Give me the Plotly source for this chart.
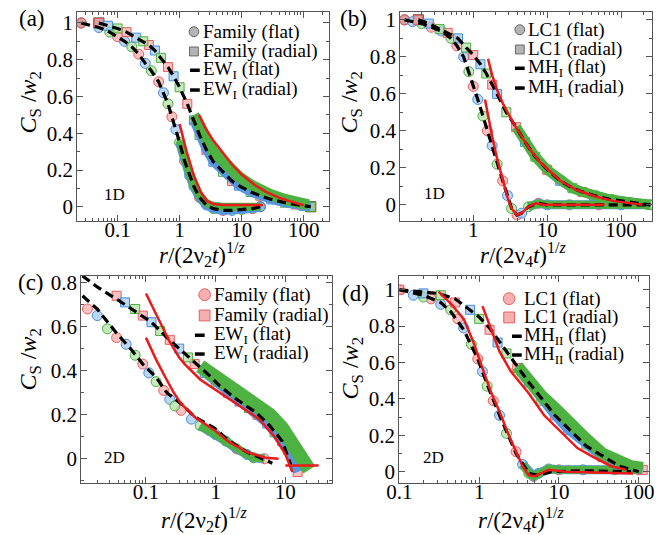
import plotly.graph_objects as go

W, H = 661, 535
FONT = "Times New Roman, Liberation Serif, DejaVu Serif, serif"

# ---------------- data ----------------
# Panel (a): Family 1D
A_FLAT_X = [0.026, 0.05, 0.075, 0.1, 0.13, 0.17, 0.22, 0.28, 0.35, 0.46, 0.55, 0.65, 0.75, 0.87, 1.0, 1.2, 1.45, 1.7, 2.1, 2.7, 3.5, 5.0, 7.0, 10.0, 15.0, 20.0]
A_FLAT_Y = [1.0, 0.975, 0.95, 0.925, 0.9, 0.87, 0.83, 0.78, 0.74, 0.68, 0.62, 0.56, 0.49, 0.42, 0.35, 0.25, 0.17, 0.11, 0.05, 0.01, -0.01, -0.02, -0.02, -0.015, -0.01, 0.0]
A_FLAT_BAND_X = [1.0, 1.2, 1.45, 1.7, 2.1, 2.7, 3.5, 5.0, 7.0, 10.0, 15.0, 20.0]
A_FLAT_BAND_Y = [0.36, 0.26, 0.18, 0.12, 0.06, 0.02, 0.005, 0.0, 0.0, 0.0, 0.0, 0.0]
A_RAD_X = [0.05, 0.07, 0.1, 0.14, 0.2, 0.26, 0.32, 0.4, 0.5, 0.65, 0.8, 1.0, 1.33, 1.7, 2.1, 2.7, 3.5, 5.0, 7.0, 9.0, 14.0, 20.0, 30.0, 50.0, 75.0, 100.0, 130.0]
A_RAD_Y = [1.0, 0.985, 0.97, 0.95, 0.92, 0.9, 0.88, 0.85, 0.81, 0.76, 0.71, 0.65, 0.56, 0.47, 0.39, 0.31, 0.245, 0.19, 0.14, 0.115, 0.08, 0.06, 0.04, 0.022, 0.012, 0.005, 0.0]
A_RAD_BAND_X = [1.7, 2.1, 2.7, 3.5, 5.0, 7.0, 9.0, 14.0, 20.0, 30.0, 50.0, 75.0, 100.0, 120.0]
A_RAD_BAND_Y = [0.5, 0.44, 0.36, 0.3, 0.25, 0.2, 0.165, 0.12, 0.09, 0.065, 0.04, 0.025, 0.015, 0.01]
A_RED1_X = [1.0, 1.3, 1.7, 2.2, 2.8, 3.5, 5.0, 10.0, 22.0]
A_RED1_Y = [0.45, 0.3, 0.17, 0.08, 0.03, 0.015, 0.01, 0.01, 0.01]
A_RED2_X = [2.05, 2.7, 3.5, 5.0, 7.0, 10.0, 16.0, 25.0, 40.0, 60.0, 100.0]
A_RED2_Y = [0.5, 0.42, 0.36, 0.29, 0.23, 0.175, 0.12, 0.08, 0.05, 0.03, 0.008]
A_GRAY_C_X, A_GRAY_C_Y = [0.026, 20.0], [1.0, 0.0]
A_GRAY_S_X, A_GRAY_S_Y = [0.05, 130.0], [1.0, 0.0]

# Panel (b): LC1 1D
B_FLAT_X = [0.117, 0.15, 0.2, 0.27, 0.37, 0.5, 0.6, 0.74, 0.87, 1.0, 1.15, 1.35, 1.55, 1.8, 2.1, 2.5, 2.9, 3.3, 3.9, 4.5, 5.6, 7.6, 10.0, 20.0, 50.0, 100.0, 250.0]
B_FLAT_Y = [1.0, 0.99, 0.98, 0.96, 0.94, 0.9, 0.86, 0.8, 0.72, 0.64, 0.57, 0.48, 0.4, 0.32, 0.22, 0.13, 0.05, -0.02, -0.055, -0.045, -0.01, 0.008, 0.0, 0.0, 0.0, 0.0, 0.0]
B_RAD_X = [0.18, 0.25, 0.35, 0.45, 0.62, 0.8, 1.0, 1.25, 1.5, 1.8, 2.1, 2.8, 3.8, 5.0, 6.9, 10.0, 15.0, 22.0, 30.0, 43.0, 70.0, 120.0, 195.0, 250.0]
B_RAD_Y = [1.0, 0.98, 0.95, 0.93, 0.9, 0.85, 0.81, 0.76, 0.71, 0.65, 0.6, 0.5, 0.42, 0.34, 0.26, 0.19, 0.13, 0.09, 0.07, 0.05, 0.03, 0.015, 0.005, 0.0]
B_RED1_X = [1.44, 1.6, 1.8, 2.1, 2.5, 2.9, 3.3, 3.9, 4.5, 5.6, 7.0, 9.0, 15.0, 30.0, 60.0]
B_RED1_Y = [0.57, 0.47, 0.37, 0.25, 0.13, 0.04, -0.02, -0.055, -0.045, -0.01, 0.008, 0.0, 0.0, 0.0, 0.0]
B_RED2_X = [1.58, 1.8, 2.1, 2.5, 3.5, 5.6, 8.0, 15.0, 25.0, 45.0, 80.0, 195.0]
B_RED2_Y = [0.79, 0.7, 0.62, 0.55, 0.44, 0.31, 0.23, 0.13, 0.08, 0.045, 0.02, 0.0]
B_GRAY_C_X, B_GRAY_C_Y = [0.117], [1.0]
B_GRAY_S_X, B_GRAY_S_Y = [0.18], [1.0]

# Panel (c): Family 2D
C_FLAT_X = [0.0145, 0.02, 0.028, 0.038, 0.052, 0.07, 0.09, 0.11, 0.14, 0.18, 0.22, 0.26, 0.32, 0.45, 0.6, 0.8, 1.0, 1.4, 2.0, 2.8, 3.5, 5.0]
C_FLAT_Y = [0.68, 0.65, 0.59, 0.55, 0.52, 0.47, 0.43, 0.39, 0.35, 0.31, 0.27, 0.24, 0.22, 0.18, 0.15, 0.13, 0.11, 0.08, 0.045, 0.02, 0.005, 0.0]
C_FLAT_TH_X = [0.0123, 0.02, 0.038, 0.06, 0.09, 0.14, 0.2, 0.32, 0.5, 0.96, 1.5, 2.8, 4.0, 5.8, 6.5]
C_FLAT_TH_Y = [0.74, 0.68, 0.57, 0.5, 0.43, 0.37, 0.3, 0.25, 0.19, 0.14, 0.085, 0.03, 0.01, -0.01, -0.02]
C_RAD_X = [0.038, 0.05, 0.07, 0.09, 0.12, 0.16, 0.22, 0.3, 0.4, 0.5, 0.7, 1.0, 1.5, 2.2, 3.0, 4.0, 5.5, 7.0, 9.0, 11.0, 13.0, 15.0]
C_RAD_Y = [0.74, 0.71, 0.68, 0.65, 0.62, 0.58, 0.54, 0.5, 0.46, 0.43, 0.39, 0.35, 0.3, 0.26, 0.23, 0.2, 0.16, 0.12, 0.08, 0.04, -0.01, -0.06]
C_RAD_BAND_X = [0.6, 1.0, 1.5, 2.2, 3.0, 4.0, 6.0, 9.0, 12.0, 15.0, 18.0, 22.0]
C_RAD_BAND_Y = [0.42, 0.37, 0.33, 0.3, 0.27, 0.24, 0.2, 0.14, 0.08, 0.03, -0.02, -0.05]
C_RAD_TH_X = [0.0123, 0.02, 0.04, 0.07, 0.12, 0.2, 0.3, 0.5, 0.8, 1.15, 2.0, 3.8, 6.0, 9.0, 12.0]
C_RAD_TH_Y = [0.83, 0.78, 0.72, 0.67, 0.62, 0.55, 0.5, 0.44, 0.38, 0.33, 0.27, 0.21, 0.15, 0.08, -0.03]
C_RED1_X = [0.1, 0.14, 0.19, 0.25, 0.32, 0.5, 0.96, 1.5, 2.8, 5.2, 8.0]
C_RED1_Y = [0.55, 0.45, 0.37, 0.3, 0.25, 0.19, 0.13, 0.08, 0.03, 0.005, 0.0]
C_RED2_X = [0.1, 0.15, 0.22, 0.3, 0.36, 0.6, 1.15, 2.0, 4.2, 7.0, 10.0, 12.6]
C_RED2_Y = [0.75, 0.64, 0.53, 0.46, 0.43, 0.36, 0.3, 0.25, 0.18, 0.1, 0.02, -0.06]
C_RED3_X = [10.0, 30.0]
C_RED3_Y = [-0.03, -0.03]

# Panel (d): LC1 2D
D_FLAT_X = [0.1, 0.15, 0.2, 0.25, 0.33, 0.44, 0.54, 0.64, 0.8, 0.96, 1.1, 1.26, 1.5, 1.8, 2.2, 2.9, 3.5, 4.2, 4.8, 5.5, 7.4, 10.0, 20.0, 50.0, 100.0]
D_FLAT_Y = [1.0, 0.97, 0.96, 0.95, 0.92, 0.89, 0.84, 0.79, 0.7, 0.62, 0.55, 0.47, 0.39, 0.31, 0.21, 0.11, 0.04, -0.01, -0.025, -0.01, 0.015, 0.01, 0.01, 0.01, 0.01]
D_FLAT_TH_X = [0.1, 0.2, 0.33, 0.44, 0.64, 0.96, 1.26, 1.8, 2.9, 4.2, 5.5, 8.0, 20.0, 80.0]
D_FLAT_TH_Y = [1.0, 0.97, 0.93, 0.88, 0.78, 0.62, 0.48, 0.31, 0.1, -0.01, -0.02, 0.0, 0.005, 0.0]
D_RAD_X = [0.1, 0.2, 0.33, 0.5, 0.77, 1.0, 1.35, 1.7, 2.2, 3.0, 4.2, 6.0, 8.9, 13.0, 22.0, 35.0, 57.0, 80.0, 112.0]
D_RAD_Y = [1.0, 0.98, 0.97, 0.93, 0.89, 0.84, 0.78, 0.71, 0.65, 0.57, 0.49, 0.39, 0.31, 0.23, 0.15, 0.08, 0.04, 0.02, 0.01]
D_RAD_BAND_X = [3.0, 4.2, 6.0, 8.9, 13.0, 22.0, 35.0, 57.0, 80.0, 112.0]
D_RAD_BAND_Y = [0.58, 0.5, 0.42, 0.35, 0.27, 0.18, 0.1, 0.05, 0.03, 0.02]
D_RAD_TH_X = [0.1, 0.3, 0.5, 0.77, 1.0, 1.35, 2.2, 4.2, 8.9, 22.0, 57.0, 100.0]
D_RAD_TH_Y = [1.0, 0.98, 0.95, 0.89, 0.85, 0.79, 0.66, 0.49, 0.31, 0.14, 0.03, 0.0]
D_RED1_X = [0.31, 0.45, 0.64, 0.85, 1.12, 1.4, 1.8, 2.3, 2.9, 3.5, 4.2, 5.0, 7.4, 12.0, 85.0]
D_RED1_Y = [0.99, 0.92, 0.84, 0.71, 0.56, 0.44, 0.33, 0.21, 0.11, 0.03, -0.02, -0.025, 0.01, 0.0, -0.01]
D_RED2_X = [1.1, 1.4, 1.8, 2.5, 4.2, 6.5, 10.5, 17.0, 27.0, 45.0, 70.0]
D_RED2_Y = [0.91, 0.79, 0.66, 0.55, 0.43, 0.31, 0.22, 0.13, 0.08, 0.03, 0.01]

X_TICKS = [0.1, 1, 10, 100]
X_TICK_TEXT = ["0.1", "1", "10", "100"]
Y_TICKS = [0, 0.2, 0.4, 0.6, 0.8, 1.0]
Y_TICK_TEXT = ["0", "0.2", "0.4", "0.6", "0.8", "1"]

LEG_A = ["Family (flat)", "Family (radial)", "EW<sub>I</sub> (flat)", "EW<sub>I</sub> (radial)"]
LEG_B = ["LC1 (flat)", "LC1 (radial)", "MH<sub>I</sub> (flat)", "MH<sub>I</sub> (radial)"]
LEG_D = ["LC1 (flat)", "LC1 (radial)", "MH<sub>II</sub> (flat)", "MH<sub>II</sub> (radial)"]

# ---------------- styles ----------------
MARKER_STYLES = [
    ("rgba(248,168,168,0.7)", "rgb(228,95,95)"),
    ("rgba(160,198,240,0.7)", "rgb(70,140,215)"),
    ("rgba(172,224,160,0.7)", "rgb(78,172,66)"),
]
BLUE_BAND = "rgb(85,150,220)"
GREEN_BAND = "rgb(78,178,66)"
RED = "rgb(235,25,25)"
AXC = "#555555"

fig = go.Figure()


def refs(i):
    s = "" if i == 1 else str(i)
    return "x" + s, "y" + s


def add_data(i, xs, ys, symbol, band_from, band_x=None, band_y=None, gw=8):
    xa, ya = refs(i)
    for k, (fill, line) in enumerate(MARKER_STYLES):
        fig.add_trace(go.Scatter(
            x=xs[k::3], y=ys[k::3], mode="markers", xaxis=xa, yaxis=ya,
            marker=dict(symbol=symbol, size=10 if symbol == "circle" else 9, color=fill,
                        line=dict(color=line, width=1)),
            hoverinfo="skip", showlegend=False))
    bx = [x for x in xs if x >= band_from]
    by = [y for x, y in zip(xs, ys) if x >= band_from]
    fig.add_trace(go.Scatter(x=bx, y=by, mode="lines", xaxis=xa, yaxis=ya,
                             line=dict(color=BLUE_BAND, width=9), hoverinfo="skip", showlegend=False))
    gx, gy = (band_x, band_y) if band_x is not None else (bx, by)
    fig.add_trace(go.Scatter(x=gx, y=gy, mode="lines", xaxis=xa, yaxis=ya,
                             line=dict(color=GREEN_BAND, width=gw), hoverinfo="skip", showlegend=False))


def add_gray(i, xs, ys, symbol):
    xa, ya = refs(i)
    fig.add_trace(go.Scatter(x=xs, y=ys, mode="markers", xaxis=xa, yaxis=ya,
                             marker=dict(symbol=symbol, size=10, color="#8c8c8c", line=dict(color="#333333", width=1)),
                             hoverinfo="skip", showlegend=False))


def add_dash(i, xs, ys):
    xa, ya = refs(i)
    fig.add_trace(go.Scatter(x=xs, y=ys, mode="lines", xaxis=xa, yaxis=ya,
                             line=dict(color="black", width=3.2, dash="9px,5px"), hoverinfo="skip", showlegend=False))


def add_red(i, xs, ys):
    xa, ya = refs(i)
    fig.add_trace(go.Scatter(x=xs, y=ys, mode="lines", xaxis=xa, yaxis=ya,
                             line=dict(color=RED, width=2.5), hoverinfo="skip", showlegend=False))


# panel a
add_gray(1, A_GRAY_C_X, A_GRAY_C_Y, "circle")
add_gray(1, A_GRAY_S_X, A_GRAY_S_Y, "square")
add_data(1, A_FLAT_X, A_FLAT_Y, "circle", 1.0, A_FLAT_BAND_X, A_FLAT_BAND_Y)
add_data(1, A_RAD_X, A_RAD_Y, "square", 1.7, A_RAD_BAND_X, A_RAD_BAND_Y, gw=11)
add_dash(1, A_FLAT_X, A_FLAT_Y)
add_dash(1, A_RAD_X, A_RAD_Y)
add_red(1, A_RED1_X, A_RED1_Y)
add_red(1, A_RED2_X, A_RED2_Y)

# panel b
add_gray(2, B_GRAY_C_X, B_GRAY_C_Y, "circle")
add_gray(2, B_GRAY_S_X, B_GRAY_S_Y, "square")
add_data(2, B_FLAT_X, B_FLAT_Y, "circle", 5.0)
add_data(2, B_RAD_X, B_RAD_Y, "square", 3.0, gw=10)
add_dash(2, B_FLAT_X, B_FLAT_Y)
add_dash(2, B_RAD_X, B_RAD_Y)
add_red(2, B_RED1_X, B_RED1_Y)
add_red(2, B_RED2_X, B_RED2_Y)

# panel c
add_data(3, C_FLAT_X, C_FLAT_Y, "circle", 0.6)
add_data(3, C_RAD_X, C_RAD_Y, "square", 0.6, C_RAD_BAND_X, C_RAD_BAND_Y, gw=14)
add_dash(3, C_FLAT_TH_X, C_FLAT_TH_Y)
add_dash(3, C_RAD_TH_X, C_RAD_TH_Y)
add_red(3, C_RED1_X, C_RED1_Y)
add_red(3, C_RED2_X, C_RED2_Y)
add_red(3, C_RED3_X, C_RED3_Y)

# panel d
add_data(4, D_FLAT_X, D_FLAT_Y, "circle", 3.5)
add_data(4, D_RAD_X, D_RAD_Y, "square", 3.0, D_RAD_BAND_X, D_RAD_BAND_Y, gw=12)
add_dash(4, D_FLAT_TH_X, D_FLAT_TH_Y)
add_dash(4, D_RAD_TH_X, D_RAD_TH_Y)
add_red(4, D_RED1_X, D_RED1_Y)
add_red(4, D_RED2_X, D_RED2_Y)

# ---------------- axes ----------------
MINOR_X = [k * 10.0 ** e for e in range(-3, 4) for k in range(2, 10)]
MINOR_Y = [-0.1, 0.1, 0.3, 0.5, 0.7, 0.9]

PANELS = {
    1: dict(xpx=(66, 325), ypx=(7, 218), xr=(-1.65, 2.41), yr=(-0.075, 1.06)),
    2: dict(xpx=(398, 657), ypx=(7, 218), xr=(-0.99, 2.42), yr=(-0.085, 1.043)),
    3: dict(xpx=(70, 328), ypx=(274, 483), xr=(-1.93, 1.67), yr=(-0.108, 0.83)),
    4: dict(xpx=(397, 654), ypx=(274, 483), xr=(-1.002, 2.13), yr=(-0.06, 1.076)),
}

layout_axes = {}
for i, p in PANELS.items():
    s = "" if i == 1 else str(i)
    common = dict(ticks="inside", ticklen=6, tickwidth=1, tickcolor=AXC,
                  showline=True, linecolor=AXC, linewidth=1, mirror="ticks",
                  showgrid=False, zeroline=False,
                  tickfont=dict(family=FONT, size=21, color="black"))
    layout_axes["xaxis" + s] = dict(
        type="log", domain=[p["xpx"][0] / W, p["xpx"][1] / W], range=list(p["xr"]),
        tickvals=X_TICKS, ticktext=X_TICK_TEXT, anchor="y" + s, ticklabelstandoff=-10,
        minor=dict(tickvals=MINOR_X, ticks="inside", ticklen=3, tickcolor=AXC, showgrid=False),
        **common)
    layout_axes["yaxis" + s] = dict(
        domain=[1 - p["ypx"][1] / H, 1 - p["ypx"][0] / H], range=list(p["yr"]),
        tickvals=Y_TICKS, ticktext=Y_TICK_TEXT, anchor="x" + s, ticklabelstandoff=-1,
        minor=dict(tickvals=MINOR_Y, ticks="inside", ticklen=3, tickcolor=AXC, showgrid=False),
        **common)

fig.update_layout(width=W, height=H, margin=dict(l=0, r=0, t=0, b=0),
                  font=dict(family=FONT),
                  paper_bgcolor="white", plot_bgcolor="white", showlegend=False, **layout_axes)

# ---------------- text ----------------
ann = []


def text(px, py, s, size, anchor="center", angle=0):
    ann.append(dict(x=px / W, y=1 - py / H, xref="paper", yref="paper", text=s, showarrow=False,
                    xanchor=anchor, yanchor="middle", textangle=angle, borderpad=0,
                    font=dict(family=FONT, size=size, color="black")))


XT2 = "<i>r</i>/(2ν<sub>2</sub><i>t</i>)<sup>1/<i>z</i></sup>"
XT4 = "<i>r</i>/(2ν<sub>4</sub><i>t</i>)<sup>1/<i>z</i></sup>"
YT = "<i>C</i><sub>S</sub> /<i>w</i><sub>2</sub>"

text(195, 252, XT2, 23)
text(525, 252, XT4, 23)
text(197, 520, XT2, 23)
text(523, 520, XT4, 23)
text(17, 99, YT, 24, angle=-90)
text(347, 99, YT, 24, angle=-90)
text(17, 359, YT, 24, angle=-90)
text(348, 368, YT, 24, angle=-90)
text(20, 14, "(a)", 23)
text(350, 14, "(b)", 23)
text(19, 281, "(c)", 23)
text(352, 292, "(d)", 23)
text(104, 192, "1D", 17)
text(433, 191, "1D", 17)
text(104, 458, "2D", 17)
text(432, 458, "2D", 17)

shapes = []


def legend(labels, sym_x, rows, dash_x, text_x, fill, edge, r):
    cx = sym_x
    shapes.append(dict(type="circle", xref="paper", yref="paper",
                       x0=(cx - r) / W, x1=(cx + r) / W, y0=1 - (rows[0] + r) / H, y1=1 - (rows[0] - r) / H,
                       fillcolor=fill, line=dict(color=edge, width=1)))
    shapes.append(dict(type="rect", xref="paper", yref="paper",
                       x0=(cx - r + 0.5) / W, x1=(cx + r - 0.5) / W, y0=1 - (rows[1] + r - 0.5) / H,
                       y1=1 - (rows[1] - r + 0.5) / H,
                       fillcolor=fill, line=dict(color=edge, width=1)))
    for ry in rows[2:]:
        shapes.append(dict(type="line", xref="paper", yref="paper",
                           x0=dash_x[0] / W, x1=dash_x[1] / W, y0=1 - ry / H, y1=1 - ry / H,
                           line=dict(color="black", width=3.5)))
    for lab, ry in zip(labels, rows):
        text(text_x, ry, lab, 19, anchor="left")


legend(LEG_A, 186, [27, 47, 66, 86], (182, 192), 194, "#b4b4b4", "#666666", 5)
legend(LEG_B, 521, [25, 45, 64, 84], (516, 526), 528, "#b4b4b4", "#666666", 5)
legend(LEG_A, 197, [293, 314, 334, 353], (187, 197), 206, "rgba(245,165,165,0.9)", "rgb(225,100,100)", 6)
legend(LEG_D, 510, [297, 316, 335, 354], (513, 523), 524, "rgba(245,165,165,0.9)", "rgb(225,100,100)", 6)

fig.update_layout(annotations=ann, shapes=shapes)
fig.write_html("out.html")
